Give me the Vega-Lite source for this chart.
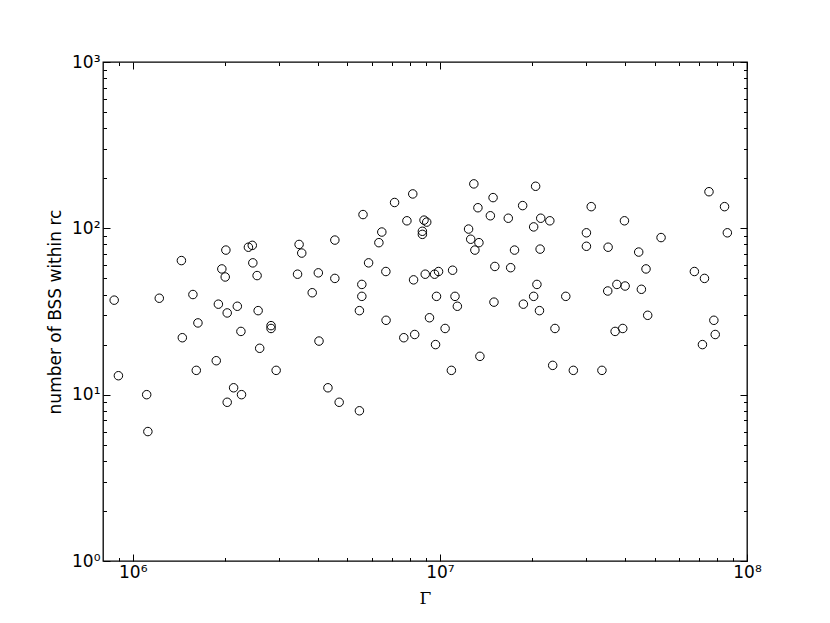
{
  "$schema": "https://vega.github.io/schema/vega-lite/v6.json",
  "width": 644,
  "height": 499,
  "autosize": {"type": "none"},
  "padding": {"left": 103, "top": 62, "right": 83, "bottom": 62},
  "background": "white",
  "config": {
    "view": {"stroke": "black", "strokeWidth": 1.3},
    "axis": {"domain": false, "grid": false, "labelFont": "DejaVu Sans", "labelFontSize": 17, "labelColor": "black", "tickColor": "black", "tickWidth": 1, "labelFlush": false, "labelOverlap": false, "labelBound": false, "titleColor": "black", "titleFontWeight": "normal"}
  },
  "data": {"values": [
    {"gamma": 870000, "n": 37}, {"gamma": 1220000, "n": 38}, {"gamma": 1440000, "n": 64}, {"gamma": 1570000, "n": 40},
    {"gamma": 2010000, "n": 74}, {"gamma": 2380000, "n": 77}, {"gamma": 2450000, "n": 79}, {"gamma": 2460000, "n": 62},
    {"gamma": 1950000, "n": 57}, {"gamma": 2000000, "n": 51}, {"gamma": 2540000, "n": 52}, {"gamma": 1900000, "n": 35},
    {"gamma": 2030000, "n": 31}, {"gamma": 2190000, "n": 34}, {"gamma": 2560000, "n": 32}, {"gamma": 1630000, "n": 27},
    {"gamma": 1450000, "n": 22}, {"gamma": 2250000, "n": 24}, {"gamma": 2590000, "n": 19}, {"gamma": 1870000, "n": 16},
    {"gamma": 1610000, "n": 14}, {"gamma": 898000, "n": 13}, {"gamma": 1110000, "n": 10}, {"gamma": 2130000, "n": 11},
    {"gamma": 2260000, "n": 10}, {"gamma": 2030000, "n": 9}, {"gamma": 1120000, "n": 6},
    {"gamma": 2820000, "n": 26}, {"gamma": 2820000, "n": 25}, {"gamma": 2930000, "n": 14}, {"gamma": 3480000, "n": 80},
    {"gamma": 3550000, "n": 71}, {"gamma": 4550000, "n": 85}, {"gamma": 3440000, "n": 53}, {"gamma": 4020000, "n": 54},
    {"gamma": 4550000, "n": 50}, {"gamma": 3840000, "n": 41}, {"gamma": 4040000, "n": 21}, {"gamma": 4320000, "n": 11},
    {"gamma": 4700000, "n": 9}, {"gamma": 5470000, "n": 8}, {"gamma": 5620000, "n": 121}, {"gamma": 7120000, "n": 143},
    {"gamma": 8160000, "n": 161}, {"gamma": 7810000, "n": 111}, {"gamma": 8880000, "n": 112}, {"gamma": 9060000, "n": 109},
    {"gamma": 8770000, "n": 96}, {"gamma": 8770000, "n": 92}, {"gamma": 6470000, "n": 95}, {"gamma": 6330000, "n": 82},
    {"gamma": 5860000, "n": 62}, {"gamma": 6670000, "n": 55}, {"gamma": 5570000, "n": 46}, {"gamma": 5570000, "n": 39},
    {"gamma": 5470000, "n": 32}, {"gamma": 6680000, "n": 28}, {"gamma": 7630000, "n": 22}, {"gamma": 8280000, "n": 23},
    {"gamma": 8210000, "n": 49}, {"gamma": 8960000, "n": 53}, {"gamma": 9250000, "n": 29},
    {"gamma": 12900000, "n": 185}, {"gamma": 20500000, "n": 179}, {"gamma": 14900000, "n": 153}, {"gamma": 18600000, "n": 137},
    {"gamma": 13300000, "n": 133}, {"gamma": 14600000, "n": 119}, {"gamma": 16700000, "n": 115}, {"gamma": 21300000, "n": 115},
    {"gamma": 22800000, "n": 111}, {"gamma": 20200000, "n": 102}, {"gamma": 31100000, "n": 135}, {"gamma": 12400000, "n": 99},
    {"gamma": 12600000, "n": 86}, {"gamma": 13400000, "n": 82}, {"gamma": 13000000, "n": 74}, {"gamma": 17500000, "n": 74},
    {"gamma": 21200000, "n": 75}, {"gamma": 30000000, "n": 94}, {"gamma": 30000000, "n": 78}, {"gamma": 9610000, "n": 53},
    {"gamma": 9900000, "n": 55}, {"gamma": 11000000, "n": 56}, {"gamma": 15100000, "n": 59}, {"gamma": 17000000, "n": 58},
    {"gamma": 20700000, "n": 46}, {"gamma": 20200000, "n": 39}, {"gamma": 18700000, "n": 35}, {"gamma": 21100000, "n": 32},
    {"gamma": 25700000, "n": 39}, {"gamma": 9750000, "n": 39}, {"gamma": 11200000, "n": 39}, {"gamma": 11400000, "n": 34},
    {"gamma": 15000000, "n": 36}, {"gamma": 10400000, "n": 25}, {"gamma": 9680000, "n": 20}, {"gamma": 13500000, "n": 17},
    {"gamma": 10900000, "n": 14}, {"gamma": 23700000, "n": 25}, {"gamma": 23300000, "n": 15}, {"gamma": 27200000, "n": 14},
    {"gamma": 39900000, "n": 111}, {"gamma": 35300000, "n": 77}, {"gamma": 44400000, "n": 72}, {"gamma": 52500000, "n": 88},
    {"gamma": 46900000, "n": 57}, {"gamma": 37700000, "n": 46}, {"gamma": 40100000, "n": 45}, {"gamma": 35200000, "n": 42},
    {"gamma": 45300000, "n": 43}, {"gamma": 47500000, "n": 30}, {"gamma": 37200000, "n": 24}, {"gamma": 39400000, "n": 25},
    {"gamma": 33700000, "n": 14}, {"gamma": 75200000, "n": 166}, {"gamma": 84500000, "n": 135}, {"gamma": 86300000, "n": 94},
    {"gamma": 67400000, "n": 55}, {"gamma": 72700000, "n": 50}, {"gamma": 78000000, "n": 28}, {"gamma": 78800000, "n": 23},
    {"gamma": 71600000, "n": 20}
  ]},
  "layer": [
    {
      "mark": {"type": "point", "shape": "circle", "filled": false, "stroke": "black", "strokeWidth": 1, "size": 72, "opacity": 1},
      "encoding": {
        "x": {"field": "gamma", "type": "quantitative", "scale": {"type": "log", "domain": [800000, 100000000], "nice": false},
          "axis": {"orient": "bottom", "values": [1000000, 10000000, 100000000], "tickSize": -7, "labelPadding": 10,
            "labelExpr": "datum.value < 2e6 ? '10⁶' : datum.value < 2e7 ? '10⁷' : '10⁸'",
            "title": "Γ", "titleFont": "DejaVu Serif", "titleFontSize": 17, "titlePadding": 10}},
        "y": {"field": "n", "type": "quantitative", "scale": {"type": "log", "domain": [1, 1000], "nice": false},
          "axis": {"orient": "left", "values": [1, 10, 100, 1000], "tickSize": -7, "labelPadding": 10,
            "labelExpr": "datum.value < 2 ? '10⁰' : datum.value < 20 ? '10¹' : datum.value < 200 ? '10²' : '10³'",
            "title": "number of BSS within rc", "titleFont": "DejaVu Sans", "titleFontSize": 17, "titlePadding": 7}}
      }
    },
    {
      "mark": {"type": "point", "opacity": 0},
      "encoding": {
        "x": {"field": "gamma", "type": "quantitative", "axis": {"orient": "top", "values": [1000000, 10000000, 100000000], "tickSize": -7, "labels": false, "title": null}},
        "y": {"field": "n", "type": "quantitative", "axis": {"orient": "right", "values": [1, 10, 100, 1000], "tickSize": -7, "labels": false, "title": null}}
      }
    },
    {
      "mark": {"type": "point", "opacity": 0},
      "encoding": {
        "x": {"field": "gamma", "type": "quantitative", "axis": {"orient": "bottom", "values": [900000, 2000000, 3000000, 4000000, 5000000, 6000000, 7000000, 8000000, 9000000, 20000000, 30000000, 40000000, 50000000, 60000000, 70000000, 80000000, 90000000], "tickSize": -3.5, "labels": false, "title": null}},
        "y": {"field": "n", "type": "quantitative", "axis": {"orient": "left", "values": [2, 3, 4, 5, 6, 7, 8, 9, 20, 30, 40, 50, 60, 70, 80, 90, 200, 300, 400, 500, 600, 700, 800, 900], "tickSize": -3.5, "labels": false, "title": null}}
      }
    },
    {
      "mark": {"type": "point", "opacity": 0},
      "encoding": {
        "x": {"field": "gamma", "type": "quantitative", "axis": {"orient": "top", "values": [900000, 2000000, 3000000, 4000000, 5000000, 6000000, 7000000, 8000000, 9000000, 20000000, 30000000, 40000000, 50000000, 60000000, 70000000, 80000000, 90000000], "tickSize": -3.5, "labels": false, "title": null}},
        "y": {"field": "n", "type": "quantitative", "axis": {"orient": "right", "values": [2, 3, 4, 5, 6, 7, 8, 9, 20, 30, 40, 50, 60, 70, 80, 90, 200, 300, 400, 500, 600, 700, 800, 900], "tickSize": -3.5, "labels": false, "title": null}}
      }
    }
  ],
  "resolve": {"axis": {"x": "independent", "y": "independent"}}
}
